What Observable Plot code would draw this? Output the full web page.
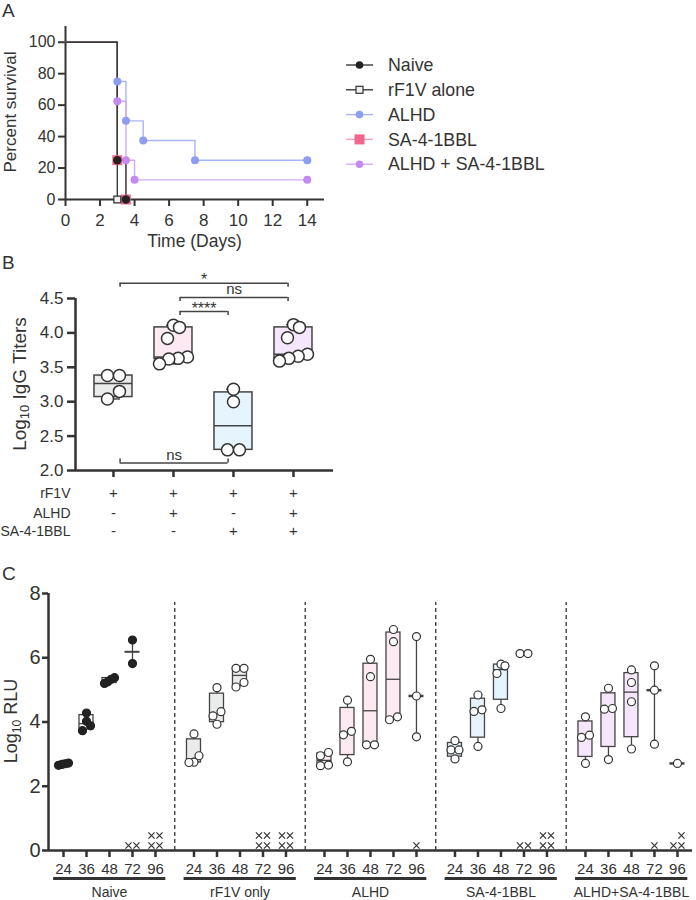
<!DOCTYPE html>
<html><head><meta charset="utf-8"><title>Figure</title>
<script src="https://cdn.jsdelivr.net/npm/d3@7"></script>
<script src="https://cdn.jsdelivr.net/npm/@observablehq/plot@0.6"></script>
<style>
html,body{margin:0;padding:0;background:#fff}
#fig{position:relative;width:696px;height:900px;overflow:hidden;font-family:"Liberation Sans",Arial,Helvetica,sans-serif;color:#333}
#fig svg{overflow:visible}
.lbl{position:absolute;white-space:nowrap;line-height:1}
.rot{transform:translate(-50%,-50%) rotate(-90deg)}
.ctr{transform:translate(-50%,-50%)}
sub{font-size:68%;line-height:0;vertical-align:-0.3em}
</style></head><body><div id="fig"></div>
<script>
// ================= DATA =================
// Panel A – survival
const groupsA = ["Naive", "rF1V alone", "ALHD", "SA-4-1BBL", "ALHD + SA-4-1BBL"];
const naiveDays = [0, 3, 3.5],               naiveSurv = [100, 25, 0];
const rf1vDays  = [0, 3],                    rf1vSurv  = [100, 0];
const alhdDays  = [0, 3, 3.5, 4.5, 7.5, 14], alhdSurv  = [100, 75, 50, 37.5, 25, 25];
const saDays    = [0, 3, 3.5],               saSurv    = [100, 25, 0];
const comboDays = [0, 3, 3.5, 4, 14],        comboSurv = [100, 62.5, 25, 12.5, 12.5];
const dayTicks  = [0, 2, 4, 6, 8, 10, 12, 14];
const survTicks = [0, 20, 40, 60, 80, 100];

// Panel B – IgG titers
const titersRF1V  = [3.38, 3.38, 3.15, 3.04];
const titersALHD  = [4.11, 4.08, 3.92, 3.65, 3.63, 3.62, 3.55];
const titersSA    = [3.18, 3.00, 2.30, 2.30];
const titersCombo = [4.12, 4.08, 3.93, 3.69, 3.66, 3.63, 3.59];
const titerTicks  = [2.0, 2.5, 3.0, 3.5, 4.0, 4.5];
const tableRows   = ["rF1V", "ALHD", "SA-4-1BBL"];
const tableSigns  = [["+", "+", "+", "+"], ["-", "+", "-", "+"], ["-", "-", "+", "+"]];
const comparisons = [
  {from: 1, to: 4, label: "*", level: 2},
  {from: 2, to: 4, label: "ns", level: 1},
  {from: 2, to: 3, label: "****", level: 0},
  {from: 1, to: 3, label: "ns", level: -1}
];

// Panel C – Log10 RLU by hour
const groupsC = ["Naive", "rF1V only", "ALHD", "SA-4-1BBL", "ALHD+SA-4-1BBL"];
const hours = [24, 36, 48, 72, 96];
const rluNaive = [[2.65, 2.68, 2.70, 2.72], [4.28, 4.02, 3.88, 3.73], [5.38, 5.33, 5.25, 5.20], [6.55, 5.82], []];
const rluRF1V  = [[3.63, 2.95, 2.75, 2.74], [5.07, 4.32, 4.19, 3.93], [5.67, 5.67, 5.23, 5.09], [], []];
const rluALHD  = [[3.05, 2.95, 2.66, 2.64], [4.68, 3.71, 3.60, 2.76], [5.95, 5.41, 3.29, 3.29], [6.88, 6.50, 4.16, 4.07], [6.66, 4.81, 3.54]];
const rluSA    = [[3.42, 3.13, 3.13, 2.85], [4.84, 4.38, 4.33, 3.24], [5.80, 5.75, 5.51, 4.42], [6.13, 6.13], []];
const rluCombo = [[4.16, 3.59, 3.52, 2.71], [5.05, 4.42, 4.40, 2.83], [5.62, 5.23, 4.63, 3.16], [5.75, 4.99, 3.31], [2.71]];
const deathsNaive = [0, 0, 0, 2, 4];
const deathsRF1V  = [0, 0, 0, 4, 4];
const deathsALHD  = [0, 0, 0, 0, 1];
const deathsSA    = [0, 0, 0, 2, 4];
const deathsCombo = [0, 0, 0, 1, 3];
const rluTicks = [0, 2, 4, 6, 8];

// ================= HELPERS =================
const FONT = '"Liberation Sans", Arial, Helvetica, sans-serif';
const INK = "#333";
const fig = document.getElementById("fig");
const styleP = {fontFamily: FONT, color: INK, background: "transparent", overflow: "visible"};
const K = v => () => v;
function put(node, left, top) { node.style.position = "absolute"; node.style.left = left + "px"; node.style.top = top + "px"; fig.appendChild(node); }
function label(html, left, top, size, cls) {
  const d = document.createElement("div"); d.className = "lbl " + (cls || "");
  d.style.left = left + "px"; d.style.top = top + "px"; d.style.fontSize = size + "px"; d.innerHTML = html;
  fig.appendChild(d); return d;
}
// quartiles by (n+1)p interpolation
function quant(s, p) { const n = s.length, h = (n + 1) * p; if (h <= 1) return s[0]; if (h >= n) return s[n - 1]; const i = Math.floor(h); return s[i - 1] + (h - i) * (s[i] - s[i - 1]); }
function stats(vals) { const s = [...vals].sort((a, b) => a - b); return {n: s.length, min: s[0], max: s[s.length - 1], q1: quant(s, .25), med: quant(s, .5), q3: quant(s, .75)}; }
// symmetric row-based scatter offsets (pixels)
function swarm(vals, r, pxY, maxSpread) {
  const order = vals.map((v, i) => i).sort((a, b) => vals[a] - vals[b]);
  const off = vals.map(() => 0); let row = [];
  const flush = () => { const k = row.length; if (!k) return; const sp = k > 1 ? Math.min(2 * r, maxSpread / (k - 1)) : 0; row.forEach((j, m) => off[j] = (m - (k - 1) / 2) * sp); row = []; };
  for (const j of order) { if (row.length && (vals[j] - vals[row[0]]) * pxY >= 2 * r) flush(); row.push(j); }
  flush(); return off;
}
function boxGroup(x, vals, o) {
  const marks = []; if (!vals.length) return marks;
  const st = stats(vals), hw = o.hwPx / o.pxX, cap = o.capPx / o.pxX, mt = o.medPx / o.pxX;
  const ls = {stroke: o.line, strokeWidth: o.lw};
  if (st.n >= 4) {
    marks.push(Plot.ruleX([st], {x: K(x), y1: "q3", y2: "max", ...ls}));
    marks.push(Plot.ruleX([st], {x: K(x), y1: "min", y2: "q1", ...ls}));
    if (o.capPx) {
      marks.push(Plot.ruleY([st], {y: "max", x1: K(x - cap), x2: K(x + cap), ...ls}));
      marks.push(Plot.ruleY([st], {y: "min", x1: K(x - cap), x2: K(x + cap), ...ls}));
    }
    marks.push(Plot.rect([st], {x1: K(x - hw), x2: K(x + hw), y1: "q1", y2: "q3", fill: o.fill, ...ls}));
    marks.push(Plot.ruleY([st], {y: "med", x1: K(x - hw), x2: K(x + hw), ...ls}));
  } else {
    if (st.n > 1) marks.push(Plot.ruleX([st], {x: K(x), y1: "min", y2: "max", ...ls}));
    marks.push(Plot.ruleY([st], {y: "med", x1: K(x - mt), x2: K(x + mt), stroke: o.line, strokeWidth: o.medW}));
  }
  const off = swarm(vals, o.r, o.pxY, o.maxSpread);
  const pts = vals.map((v, i) => ({x: x + off[i] / o.pxX, y: v}));
  marks.push(Plot.dot(pts, {x: "x", y: "y", r: o.r, fill: o.dotFill, stroke: o.dotStroke, strokeWidth: o.dotW}));
  return marks;
}

// ================= PANEL A =================
const seriesA = [
  {name: "ALHD", days: alhdDays, surv: alhdSurv, line: "#a8b5f6", fill: "#8d9df3", stroke: "none", symbol: "circle", r: 4},
  {name: "ALHD + SA-4-1BBL", days: comboDays, surv: comboSurv, line: "#d5aaf6", fill: "#c58af1", stroke: "none", symbol: "circle", r: 4},
  {name: "SA-4-1BBL", days: saDays, surv: saSurv, line: "#f4a3b8", fill: "#f2668b", stroke: "none", symbol: "square", r: 5.6},
  {name: "rF1V alone", days: rf1vDays, surv: rf1vSurv, line: "#3a3a3a", fill: "#f0f0f0", stroke: "#333", symbol: "square", r: 3.9},
  {name: "Naive", days: naiveDays, surv: naiveSurv, line: "#3a3a3a", fill: "#222", stroke: "none", symbol: "circle", r: 4.2}
];
const rowsA = s => s.days.map((d, i) => ({day: d, surv: s.surv[i]}));
const xA = [0, 15], yA = [0, 110];
const plotA = Plot.plot({
  width: 340, height: 256, marginLeft: 65, marginRight: 16, marginTop: 26, marginBottom: 57,
  x: {domain: xA, axis: null}, y: {domain: yA, axis: null}, style: styleP,
  marks: [
    Plot.ruleX([xA[0]], {x: d => d, y1: K(yA[0]), y2: K(yA[1]), stroke: INK, strokeWidth: 2}),
    Plot.ruleY([yA[0]], {y: d => d, x1: K(xA[0]), x2: K(xA[1]), stroke: INK, strokeWidth: 2}),
    Plot.ruleX(dayTicks, {x: d => d, y1: K(0), y2: K(0), insetBottom: -7, stroke: INK, strokeWidth: 2}),
    Plot.ruleY(survTicks, {y: d => d, x1: K(0), x2: K(0), insetLeft: -7, stroke: INK, strokeWidth: 2}),
    Plot.text(dayTicks, {x: d => d, y: K(0), dy: 21, text: d => String(d), fontSize: 17, fill: INK}),
    Plot.text(survTicks, {x: K(0), y: d => d, dx: -10, text: d => String(d), textAnchor: "end", fontSize: 16, fill: INK}),
    ...seriesA.map(s => Plot.line(rowsA(s), {x: "day", y: "surv", curve: "step-after", stroke: s.line, strokeWidth: 1.4})),
    ...seriesA.map(s => Plot.dot(rowsA(s).filter(d => d.day > 0), {x: "day", y: "surv", symbol: s.symbol, r: s.r, fill: s.fill, stroke: s.stroke, strokeWidth: 1.2}))
  ]
});
put(plotA, 0, 0);
label("A", 2, 1, 19);
label("Percent survival", 10, 112, 17, "rot");
label("Time (Days)", 194.5, 242, 17.5, "ctr");
// legend
{
  let s = '<svg width="290" height="150" style="position:absolute;left:330px;top:40px;overflow:visible" font-family=\'' + FONT + '\'>';
  groupsA.forEach((name, i) => {
    const it = seriesA.find(t => t.name === name); const y = 25 + i * 24.8, cx = 29.5;
    s += `<line x1="16" x2="43" y1="${y}" y2="${y}" stroke="${it.line}" stroke-width="1.4"/>`;
    if (it.symbol === "circle") s += `<circle cx="${cx}" cy="${y}" r="3.8" fill="${it.fill}"/>`;
    else { const a = name === "SA-4-1BBL" ? 10 : 7; s += `<rect x="${cx - a / 2}" y="${y - a / 2}" width="${a}" height="${a}" fill="${it.fill}" stroke="${it.stroke}" stroke-width="1.2"/>`; }
    s += `<text x="58" y="${y}" dy="0.35em" font-size="17.8" fill="${INK}">${name}</text>`;
  });
  s += "</svg>";
  const wrap = document.createElement("div"); wrap.innerHTML = s; fig.appendChild(wrap.firstChild);
}

// ================= PANEL B =================
const titersB = [titersRF1V, titersALHD, titersSA, titersCombo];
const fillsB = ["#e9eceb", "#fde9f1", "#e6f5fd", "#f5e6fb"];
const xB = [0.367, 4.667], yB = [2, 4.5];
const wB = 345, hB = 305, mlB = 75, mrB = 12, mtB = 58, mbB = 75;
const pxXB = (wB - mlB - mrB) / (xB[1] - xB[0]), pxYB = (hB - mtB - mbB) / (yB[1] - yB[0]);
const bracketY = l => l >= 0 ? yB[1] - 0.19 + l * 0.205 : yB[0] + 0.11;
const brk = comparisons.map(c => ({...c, y: bracketY(c.level), x1: c.from + 0.11, x2: c.to - 0.09}));
const ends = brk.flatMap(b => [{x: b.x1, y: b.y, up: b.level < 0}, {x: b.x2, y: b.y, up: b.level < 0}]);
const tableDy = [23, 43, 61];
const marksB = [
  Plot.ruleX([xB[0]], {x: d => d, y1: K(yB[0]), y2: K(yB[1]), stroke: INK, strokeWidth: 2.5}),
  Plot.ruleY([yB[0]], {y: d => d, x1: K(xB[0]), x2: K(xB[1]), stroke: INK, strokeWidth: 2.5}),
  Plot.ruleX([1, 2, 3, 4], {x: d => d, y1: K(yB[0]), y2: K(yB[0]), insetBottom: -7, stroke: INK, strokeWidth: 2.5}),
  Plot.ruleY(titerTicks, {y: d => d, x1: K(xB[0]), x2: K(xB[0]), insetLeft: -8, stroke: INK, strokeWidth: 2.5}),
  Plot.text(titerTicks, {x: K(xB[0]), y: d => d, dx: -12, textAnchor: "end", text: d => d.toFixed(1), fontSize: 17, fill: INK}),
  ...tableRows.map((row, r) => Plot.text(tableSigns[r], {x: (d, i) => i + 1, y: K(yB[0]), dy: tableDy[r], text: d => d, fontSize: 15, fill: INK})),
  ...tableRows.map((row, r) => Plot.text([row], {x: K(xB[0]), y: K(yB[0]), dx: -5, dy: tableDy[r], textAnchor: "end", text: d => d, fontSize: 14, fill: INK})),
  Plot.ruleY(brk, {y: "y", x1: "x1", x2: "x2", stroke: "#444", strokeWidth: 1.5}),
  Plot.ruleX(ends.filter(e => !e.up), {x: "x", y1: "y", y2: "y", insetBottom: -4, stroke: "#444", strokeWidth: 1.5}),
  Plot.ruleX(ends.filter(e => e.up), {x: "x", y1: "y", y2: "y", insetTop: -4, stroke: "#444", strokeWidth: 1.5}),
  Plot.text(brk.filter(b => b.label.includes("*")), {x: b => (b.x1 + b.x2) / 2, y: "y", dy: -3, text: "label", fontSize: 16, fill: INK}),
  Plot.text(brk.filter(b => !b.label.includes("*")), {x: b => (b.x1 + b.x2) / 2, y: "y", dy: -8, text: "label", fontSize: 15, fill: INK})
];
titersB.forEach((vals, g) => marksB.push(...boxGroup(g + 1, vals, {
  pxX: pxXB, pxY: pxYB, hwPx: 19, capPx: 7, medPx: 7, medW: 2, line: "#444", lw: 1.5, fill: fillsB[g],
  r: 6, maxSpread: 28, dotFill: "#fff", dotStroke: INK, dotW: 1.5
})));
const plotB = Plot.plot({
  width: wB, height: hB, marginLeft: mlB, marginRight: mrB, marginTop: mtB, marginBottom: mbB,
  x: {domain: xB, axis: null}, y: {domain: yB, axis: null}, style: styleP, marks: marksB
});
put(plotB, 0, 240);
label("B", 2, 252.5, 19);
label("Log<sub>10</sub> IgG Titers", 18.5, 384, 19, "rot");

// ================= PANEL C =================
const rluGroups = [rluNaive, rluRF1V, rluALHD, rluSA, rluCombo];
const deathGroups = [deathsNaive, deathsRF1V, deathsALHD, deathsSA, deathsCombo];
const fillsC = ["#ffffff", "#e9eceb", "#fde9f1", "#e6f5fd", "#f5e6fb"];
const STRIDE = 5.674;
const xC = [-0.652, 27.35], yC = [0, 8];
const wC = 696, hC = 335, mlC = 48, mrC = 4, mtC = 28, mbC = 50;
const pxXC = (wC - mlC - mrC) / (xC[1] - xC[0]), pxYC = (hC - mtC - mbC) / (yC[1] - yC[0]);
const slots = groupsC.flatMap((g, gi) => hours.map((h, ti) => ({g: gi, t: ti, x: gi * STRIDE + ti, hour: h})));
const seps = groupsC.slice(1).map((g, i) => (i + 1) * STRIDE - (STRIDE - (hours.length - 1)) / 2);
// death markers (×): two per row at the base of each time point, extra ones on the row above
const deathMarks = slots.flatMap(s => {
  const c = deathGroups[s.g][s.t], out = [];
  for (let k = 0; k < c; k++) {
    const row = Math.floor(k / 2), inRow = Math.min(2, c - row * 2), pos = k % 2;
    const offPx = inRow === 1 ? (row > 0 ? 4 : 0) : (pos === 0 ? -4 : 4);
    out.push({x: s.x + offPx / pxXC, row});
  }
  return out;
});
const marksC = [
  Plot.ruleX(seps, {x: d => d, y1: K(yC[0]), y2: K(7.72), stroke: "#444", strokeWidth: 1.4, strokeDasharray: "4,3"}),
  Plot.ruleX([xC[0]], {x: d => d, y1: K(yC[0]), y2: K(yC[1]), stroke: INK, strokeWidth: 2.5}),
  Plot.ruleY([yC[0]], {y: d => d, x1: K(xC[0]), x2: K(xC[1]), stroke: INK, strokeWidth: 2.5}),
  Plot.ruleY(rluTicks, {y: d => d, x1: K(xC[0]), x2: K(xC[0]), insetLeft: -6, stroke: INK, strokeWidth: 2.5}),
  Plot.text(rluTicks, {x: K(xC[0]), y: d => d, dx: -8, textAnchor: "end", text: d => String(d), fontSize: 20, fill: INK}),
  Plot.ruleX(slots, {x: "x", y1: K(0), y2: K(0), insetBottom: -7, stroke: INK, strokeWidth: 2.5}),
  Plot.text(slots, {x: "x", y: K(0), dy: 19, text: d => String(d.hour), fontSize: 15, fill: INK}),
  Plot.ruleY(groupsC, {y: K(0), dy: 28, x1: (d, i) => i * STRIDE - 0.43, x2: (d, i) => i * STRIDE + hours.length - 1 + 0.45, stroke: INK, strokeWidth: 3}),
  Plot.text(groupsC, {x: (d, i) => i * STRIDE + (hours.length - 1) / 2, y: K(0), dy: 42, text: d => d, fontSize: 14, fill: INK}),
  Plot.dot(deathMarks.filter(d => d.row === 0), {x: "x", y: K(0), dy: -5, symbol: "times", r: 2.9, stroke: INK, strokeWidth: 1.2}),
  Plot.dot(deathMarks.filter(d => d.row === 1), {x: "x", y: K(0), dy: -15, symbol: "times", r: 2.9, stroke: INK, strokeWidth: 1.2})
];
slots.forEach(s => {
  const naive = s.g === 0;
  marksC.push(...boxGroup(s.x, rluGroups[s.g][s.t], {
    pxX: pxXC, pxY: pxYC, hwPx: 7, capPx: 0, medPx: 7.5, medW: naive ? 2 : 2.5, line: "#444", lw: 1.3, fill: fillsC[s.g],
    r: 4, maxSpread: 10, dotFill: naive ? "#222" : "#fff", dotStroke: naive ? "#222" : INK, dotW: 1.2
  }));
});
const plotC = Plot.plot({
  width: wC, height: hC, marginLeft: mlC, marginRight: mrC, marginTop: mtC, marginBottom: mbC,
  x: {domain: xC, axis: null}, y: {domain: yC, axis: null}, style: styleP, marks: marksC
});
put(plotC, 0, 565);
label("C", 2, 563.5, 19);
label("Log<sub>10</sub> RLU", 11, 721, 18, "rot");
</script></body></html>
